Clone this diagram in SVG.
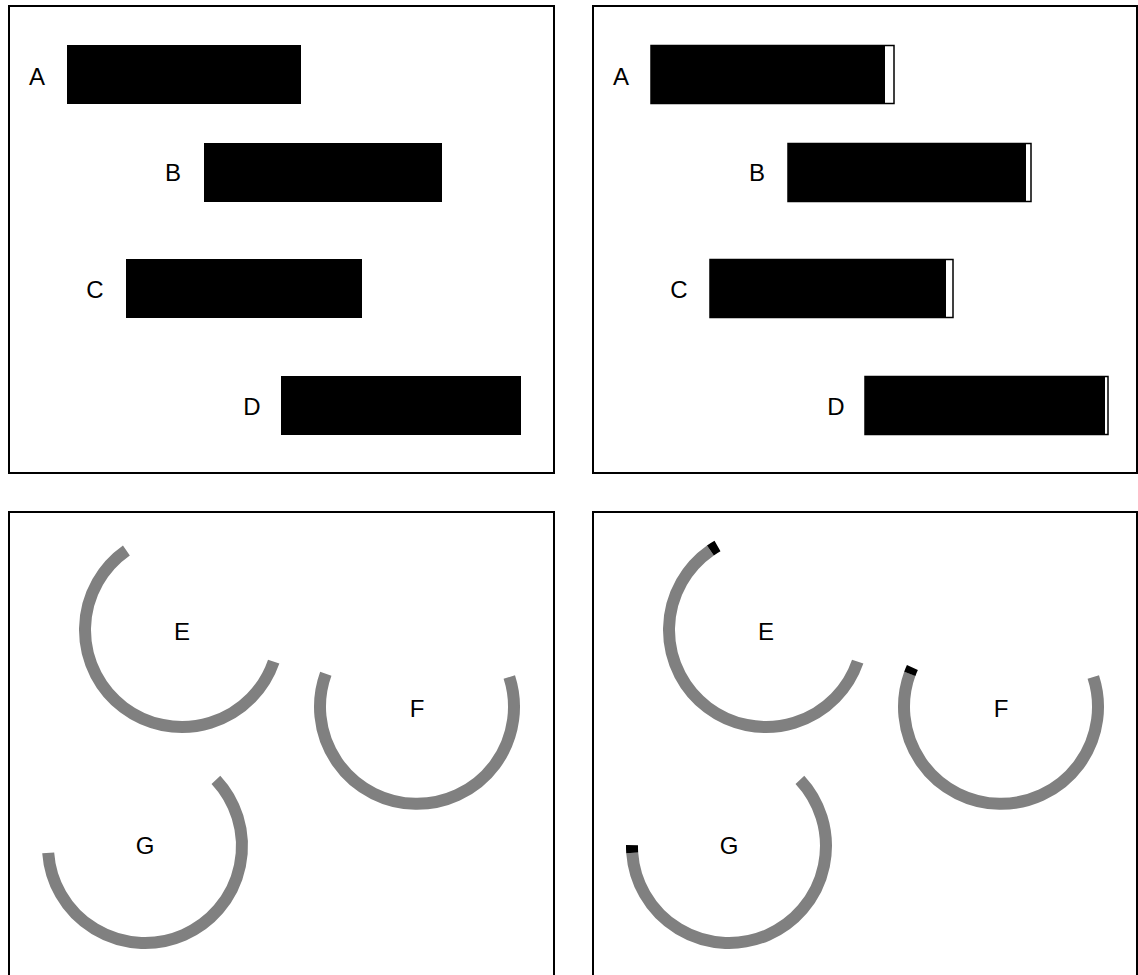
<svg xmlns="http://www.w3.org/2000/svg" width="1138" height="975" viewBox="0 0 1138 975">
<style>
.panel{fill:none;stroke:#000;stroke-width:2}
.bar{fill:#000}
.cap{fill:#fff;stroke:#000;stroke-width:1.5}
.arc{fill:none;stroke:#808080;stroke-width:12}
.tip{fill:none;stroke:#000;stroke-width:12}
.lbl{font-family:"Liberation Sans",Arial,sans-serif;font-size:24px;fill:#000;text-anchor:middle}
</style>
<rect width="1138" height="975" fill="#fff"/>
<g id="panels">
<rect class="panel" x="9" y="6" width="545" height="467"/>
<rect class="panel" x="593" y="6" width="544" height="467"/>
<rect class="panel" x="9" y="512" width="545" height="480"/>
<rect class="panel" x="593" y="512" width="544" height="480"/>
</g>
<g id="bar-A-left"><rect class="bar" x="67" y="45" width="234" height="59"/><text class="lbl" x="37" y="85">A</text></g>
<g id="bar-B-left"><rect class="bar" x="204" y="143" width="238" height="59"/><text class="lbl" x="173" y="181">B</text></g>
<g id="bar-C-left"><rect class="bar" x="126" y="259" width="236" height="59"/><text class="lbl" x="95" y="298">C</text></g>
<g id="bar-D-left"><rect class="bar" x="281" y="376" width="240" height="59"/><text class="lbl" x="252" y="415">D</text></g>
<g id="bar-A-right"><rect class="cap" x="651" y="45.5" width="243" height="58"/><rect class="bar" x="651" y="45" width="234" height="59"/><text class="lbl" x="621" y="85">A</text></g>
<g id="bar-B-right"><rect class="cap" x="788" y="143.5" width="243" height="58"/><rect class="bar" x="788" y="143" width="238" height="59"/><text class="lbl" x="757" y="181">B</text></g>
<g id="bar-C-right"><rect class="cap" x="710" y="259.5" width="243" height="58"/><rect class="bar" x="710" y="259" width="236" height="59"/><text class="lbl" x="679" y="298">C</text></g>
<g id="bar-D-right"><rect class="cap" x="865" y="376.5" width="243" height="58"/><rect class="bar" x="865" y="376" width="240" height="59"/><text class="lbl" x="836" y="415">D</text></g>
<g id="arc-E-left"><path class="arc" d="M126.4,550.5 A97,97 0 1 0 273.7,661.6"/><text class="lbl" x="182" y="640">E</text></g>
<g id="arc-F-left"><path class="arc" d="M325.8,673.8 A97,97 0 1 0 509.3,677"/><text class="lbl" x="417" y="717">F</text></g>
<g id="arc-G-left"><path class="arc" d="M48.2,852.8 A97,97 0 1 0 215.9,779.8"/><text class="lbl" x="145" y="854">G</text></g>
<g id="arc-E-right"><path class="arc" d="M710.4,550.5 A97,97 0 1 0 857.7,661.6"/><path class="tip" d="M717.5,546 A97,97 0 0 0 710.4,550.5"/><text class="lbl" x="766" y="640">E</text></g>
<g id="arc-F-right"><path class="arc" d="M909.8,673.8 A97,97 0 1 0 1093.3,677"/><path class="tip" d="M912.4,667.5 A97,97 0 0 0 909.8,673.8"/><text class="lbl" x="1001" y="717">F</text></g>
<g id="arc-G-right"><path class="arc" d="M632.2,852.8 A97,97 0 1 0 799.9,779.8"/><path class="tip" d="M632,845.2 A97,97 0 0 0 632.2,852.8"/><text class="lbl" x="729" y="854">G</text></g>
</svg>
